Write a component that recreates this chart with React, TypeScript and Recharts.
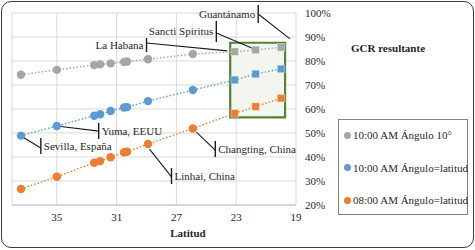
import {
  ScatterChart,
  Scatter,
  XAxis,
  YAxis,
  CartesianGrid,
  ReferenceArea,
  ReferenceLine,
  Legend,
} from 'recharts';

// latitudes of the sites, north to south (last three are the Cuban sites)
const latitudes = [37.4, 35.0, 32.5, 32.1, 31.4, 30.5, 30.3, 28.9, 25.9, 23.1, 21.7, 20.0];
const cubaSite = [false, false, false, false, false, false, false, false, false, true, true, true];

const gcrAngle10 = [0.743, 0.763, 0.783, 0.786, 0.79, 0.796, 0.798, 0.807, 0.829, 0.839, 0.846, 0.857];
const gcrLat10am = [0.489, 0.529, 0.572, 0.578, 0.592, 0.606, 0.608, 0.633, 0.679, 0.721, 0.746, 0.767];
const gcrLat08am = [0.267, 0.318, 0.376, 0.383, 0.399, 0.42, 0.422, 0.454, 0.519, 0.582, 0.61, 0.645];

const xTicks = [35, 31, 27, 23, 19];
const yTicks = [0.2, 0.3, 0.4, 0.5, 0.6, 0.7, 0.8, 0.9, 1.0];

// site labels: vertical tick [lat, top, bottom] and leader [lat, gcr] -> [lat, gcr]
const siteNotes = [
  { text: 'Guantánamo', side: 'left', tick: [21.53, 1.033, 0.958], from: [19.4, 0.892], to: [21.53, 0.996] },
  { text: 'Sancti Spiritus', side: 'left', tick: [24.33, 0.967, 0.879], from: [21.8, 0.85], to: [24.33, 0.917] },
  { text: 'La Habana', side: 'left', tick: [29.0, 0.896, 0.8375], from: [23.6, 0.842], to: [29.0, 0.875] },
  { text: 'Yuma, EEUU', side: 'right', tick: [32.2, 0.542, 0.475], from: [35.0, 0.529], to: [32.2, 0.508] },
  { text: 'Sevilla, España', side: 'right', tick: [36.07, 0.479, 0.4125], from: [37.4, 0.4875], to: [36.07, 0.4375] },
  { text: 'Linhai, China', side: 'right', tick: [27.33, 0.354, 0.2875], from: [28.8, 0.433], to: [27.33, 0.317] },
  { text: 'Changting, China', side: 'right', tick: [24.4, 0.467, 0.4], from: [25.67, 0.504], to: [24.4, 0.429] },
];

const SERIF = "'Liberation Serif', 'Times New Roman', serif";
const GRID = '#d9d9d9';
const TEXT = '#1f1f1f';

const series = [
  { name: '10:00 AM Ángulo 10°', color: '#a5a5a5', values: gcrAngle10 },
  { name: '10:00 AM Ángulo=latitud', color: '#5b9bd5', values: gcrLat10am },
  { name: '08:00 AM Ángulo=latitud', color: '#ed7d31', values: gcrLat08am },
].map((s) => ({
  ...s,
  data: latitudes.map((lat, i) => ({ lat, gcr: s.values[i], sq: cubaSite[i] })),
}));

const markShape = (color: string) => (p: any) =>
  p.payload.sq ? (
    <rect
      x={p.cx - 3.8}
      y={p.cy - 3.8}
      width={7.6}
      height={7.6}
      fill={color}
      stroke="#ffffff"
      strokeOpacity={0.45}
      strokeWidth={0.8}
    />
  ) : (
    <circle cx={p.cx} cy={p.cy} r={4.2} fill={color} />
  );

function LegendBox() {
  return (
    <div
      style={{
        width: 130,
        height: 96,
        boxSizing: 'border-box',
        border: '1px solid #808080',
        background: '#fff',
        position: 'relative',
        fontFamily: SERIF,
        fontSize: 11,
        color: TEXT,
      }}
    >
      {series.map((s, i) => (
        <div
          key={s.name}
          style={{
            position: 'absolute',
            left: 5,
            top: 8 + i * 32.5,
            height: 14,
            lineHeight: '14px',
            display: 'flex',
            alignItems: 'center',
            whiteSpace: 'nowrap',
          }}
        >
          <span
            style={{
              display: 'inline-block',
              width: 7,
              height: 7,
              borderRadius: '50%',
              background: s.color,
              marginRight: 2,
            }}
          />
          {s.name}
        </div>
      ))}
    </div>
  );
}

export default function App() {
  return (
    <div style={{ position: 'absolute', left: 0, top: 0, width: 475, height: 250, background: '#fff' }}>
      <ScatterChart
        width={475}
        height={250}
        margin={{ top: 13, left: 12, right: 139, bottom: 15 }}
      >
        <CartesianGrid stroke={GRID} strokeWidth={1} />
        <XAxis
          type="number"
          dataKey="lat"
          domain={[19, 38]}
          reversed
          ticks={xTicks}
          allowDataOverflow
          height={30}
          tickLine={false}
          tickSize={0}
          tickMargin={8}
          axisLine={{ stroke: '#bfbfbf' }}
          tick={{ fontSize: 11, fontFamily: SERIF, fill: TEXT }}
        />
        <YAxis
          type="number"
          dataKey="gcr"
          orientation="right"
          domain={[0.2, 1]}
          ticks={yTicks}
          allowDataOverflow
          width={40}
          tickLine={false}
          axisLine={false}
          tickSize={0}
          tickMargin={9}
          tickFormatter={(v: number) => `${Math.round(v * 100)}%`}
          tick={{ fontSize: 11, fontFamily: SERIF, fill: TEXT, textAnchor: 'start' }}
        />
        <ReferenceArea
          x1={23.4}
          x2={19.73}
          y1={0.565}
          y2={0.876}
          fill="#f3f6ef"
          fillOpacity={1}
          stroke="#548235"
          strokeWidth={2.2}
          ifOverflow="visible"
        />
        {siteNotes.map((n) => (
          <ReferenceLine
            key={n.text + '-lead'}
            segment={[
              { x: n.from[0], y: n.from[1] },
              { x: n.to[0], y: n.to[1] },
            ]}
            stroke="#1a1a1a"
            strokeWidth={1.1}
            ifOverflow="visible"
          />
        ))}
        {siteNotes.map((n) => (
          <ReferenceLine
            key={n.text + '-tick'}
            segment={[
              { x: n.tick[0], y: n.tick[1] },
              { x: n.tick[0], y: n.tick[2] },
            ]}
            stroke="#1a1a1a"
            strokeWidth={1.4}
            ifOverflow="visible"
            label={{
              value: n.text,
              position: n.side,
              offset: 3,
              fontSize: 11,
              fontFamily: SERIF,
              fill: TEXT,
            }}
          />
        ))}
        {series.map((s) => (
          <Scatter
            key={s.name}
            name={s.name}
            data={s.data}
            fill={s.color}
            line={{ stroke: s.color, strokeWidth: 1.4, strokeDasharray: '1.5 2' }}
            lineType="joint"
            shape={markShape(s.color)}
            isAnimationActive={false}
          />
        ))}
        <Legend
          layout="vertical"
          align="center"
          verticalAlign="middle"
          content={() => <LegendBox />}
          wrapperStyle={{ left: 338, top: 119, width: 130, height: 96 }}
        />
      </ScatterChart>
      <div
        style={{
          position: 'absolute',
          left: 338,
          top: 41,
          width: 100,
          textAlign: 'center',
          lineHeight: '14px',
          fontFamily: SERIF,
          fontSize: 11,
          fontWeight: 'bold',
          color: TEXT,
        }}
      >
        GCR resultante
      </div>
      <div
        style={{
          position: 'absolute',
          left: 148,
          top: 226,
          width: 80,
          textAlign: 'center',
          lineHeight: '14px',
          fontFamily: SERIF,
          fontSize: 11,
          fontWeight: 'bold',
          color: TEXT,
        }}
      >
        Latitud
      </div>
      <div
        style={{
          position: 'absolute',
          left: 1,
          top: 1,
          width: 473,
          height: 247,
          boxSizing: 'border-box',
          border: '1.6px solid #3a3a3a',
          borderRadius: 10,
          pointerEvents: 'none',
        }}
      />
    </div>
  );
}
